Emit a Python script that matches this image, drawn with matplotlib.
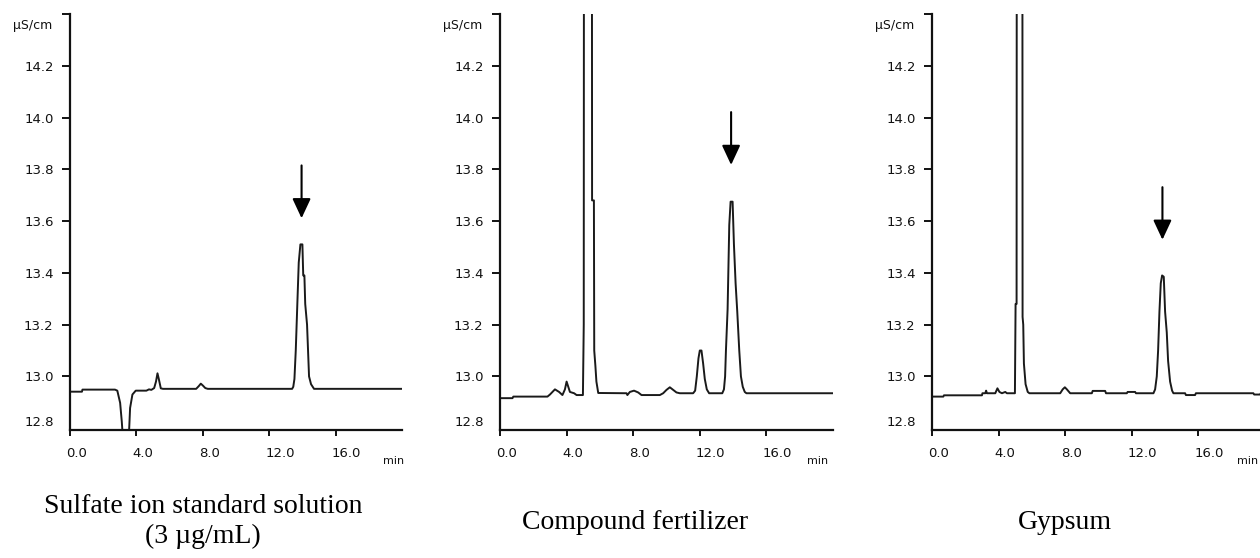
import matplotlib
matplotlib.use('Agg')
import matplotlib.pyplot as plt
from matplotlib.transforms import ScaledTranslation

# chromatogram traces: (time in min, conductivity in uS/cm)
standard_trace = [
    (0.0, 12.941), (0.72, 12.941), (0.75, 12.949), (2.71, 12.949), (2.85, 12.945),
    (3.02, 12.898), (3.12, 12.825), (3.21, 12.74), (3.35, 12.68), (3.5, 12.72),
    (3.56, 12.79), (3.62, 12.878), (3.76, 12.93), (3.96, 12.945), (4.6, 12.945),
    (4.76, 12.95), (4.9, 12.948), (5.07, 12.955), (5.18, 12.98), (5.27, 13.012),
    (5.35, 12.99), (5.47, 12.954), (5.6, 12.952), (7.6, 12.952), (7.75, 12.962),
    (7.88, 12.972), (8.0, 12.965), (8.15, 12.955), (8.3, 12.952), (13.38, 12.952),
    (13.45, 12.96), (13.52, 12.99), (13.6, 13.1), (13.7, 13.29), (13.78, 13.44),
    (13.88, 13.51), (14.0, 13.51), (14.05, 13.39), (14.12, 13.39), (14.17, 13.28),
    (14.28, 13.2), (14.4, 13.0), (14.52, 12.97), (14.7, 12.952), (20.0, 12.952),
]

fertilizer_trace = [
    (0.0, 12.916), (0.75, 12.916), (0.8, 12.922), (2.85, 12.922), (3.0, 12.93),
    (3.3, 12.95), (3.55, 12.94), (3.75, 12.928), (3.9, 12.95), (4.0, 12.98),
    (4.1, 12.96), (4.2, 12.94), (4.45, 12.935), (4.6, 12.928), (4.98, 12.928),
    (5.03, 13.2), (5.05, 16.0), (5.51, 16.0), (5.53, 13.68), (5.64, 13.68),
    (5.66, 13.1), (5.73, 13.04), (5.79, 12.98), (5.9, 12.936), (7.6, 12.935),
    (7.65, 12.928), (7.8, 12.94), (8.05, 12.945), (8.3, 12.938), (8.5, 12.928),
    (9.6, 12.928), (9.8, 12.935), (10.0, 12.948), (10.2, 12.958), (10.4, 12.948),
    (10.6, 12.938), (10.8, 12.935), (11.6, 12.935), (11.72, 12.945), (11.82, 13.0),
    (11.92, 13.07), (12.0, 13.1), (12.1, 13.1), (12.2, 13.05), (12.3, 12.99),
    (12.42, 12.95), (12.56, 12.935), (13.35, 12.935), (13.45, 12.95), (13.52, 13.0),
    (13.57, 13.1), (13.67, 13.26), (13.77, 13.585), (13.85, 13.675), (13.97, 13.675),
    (14.05, 13.51), (14.15, 13.36), (14.25, 13.25), (14.37, 13.1), (14.47, 13.0),
    (14.58, 12.96), (14.7, 12.94), (14.8, 12.935), (20.0, 12.935),
]

gypsum_trace = [
    (0.0, 12.922), (0.68, 12.922), (0.72, 12.927), (3.0, 12.927), (3.03, 12.935),
    (3.2, 12.935), (3.25, 12.945), (3.3, 12.935), (3.8, 12.935), (3.93, 12.954),
    (4.05, 12.94), (4.2, 12.935), (4.4, 12.94), (4.5, 12.935), (4.98, 12.935),
    (5.02, 13.28), (5.08, 13.28), (5.1, 16.0), (5.42, 16.0), (5.44, 13.23),
    (5.48, 13.2), (5.52, 13.05), (5.62, 12.97), (5.75, 12.94), (5.85, 12.935),
    (7.7, 12.935), (7.85, 12.95), (7.98, 12.958), (8.1, 12.95), (8.3, 12.935),
    (9.6, 12.935), (9.65, 12.944), (10.4, 12.944), (10.45, 12.935), (11.7, 12.935),
    (11.75, 12.94), (12.2, 12.94), (12.25, 12.935), (13.3, 12.935), (13.4, 12.95),
    (13.5, 13.0), (13.58, 13.1), (13.66, 13.25), (13.74, 13.36), (13.82, 13.39),
    (13.92, 13.385), (14.0, 13.25), (14.1, 13.17), (14.18, 13.06), (14.3, 12.98),
    (14.42, 12.945), (14.5, 12.935), (15.2, 12.935), (15.25, 12.928), (15.8, 12.928),
    (15.85, 12.935), (19.3, 12.935), (19.35, 12.93), (19.7, 12.93), (19.75, 12.935),
    (20.0, 12.935),
]

traces = [standard_trace, fertilizer_trace, gypsum_trace]

# arrow marking the sulfate peak: (time, top, tip)
arrows = [(13.95, 13.815, 13.611), (13.88, 14.021, 13.817), (13.84, 13.731, 13.528)]

captions = [["Sulfate ion standard solution", "(3 \u00b5g/mL)"],
            ["Compound fertilizer"],
            ["Gypsum"]]

x_ticks = [0, 4, 8, 12, 16]
x_labels = ['0.0', '4.0', '8.0', '12.0', '16.0']
y_ticks = [12.8, 13.0, 13.2, 13.4, 13.6, 13.8, 14.0, 14.2, 14.4]
y_labels = ['12.8', '13.0', '13.2', '13.4', '13.6', '13.8', '14.0', '14.2', '']

W, H = 1260, 558
fig = plt.figure(figsize=(W / 100, H / 100), dpi=100)

# axes placement in pixels (left, right), top 14, bottom 430
panel_px = [(70, 402), (500, 833), (932, 1265)]
min_offset = [-19, -26, -28]
caption_px = [(203, [513, 543]), (635, [529]), (1065, [529])]
ink = '#111111'

for i, (left, right) in enumerate(panel_px):
    ax = fig.add_axes([left / W, 1 - 430 / H, (right - left) / W, (430 - 14) / H])
    t = [p[0] for p in traces[i]]
    y = [p[1] for p in traces[i]]
    ax.plot(t, y, color='#1a1a1a', lw=1.4)
    ax.set_xlim(0, 20)
    ax.set_ylim(12.793, 14.40)

    for s in ['top', 'right']:
        ax.spines[s].set_visible(False)
    for s in ['left', 'bottom']:
        ax.spines[s].set_linewidth(1.6)
        ax.spines[s].set_color(ink)

    ax.set_xticks(x_ticks)
    ax.set_xticklabels(x_labels)
    ax.set_yticks(y_ticks)
    ax.set_yticklabels(y_labels)
    ax.tick_params(axis='y', length=5.8, width=1.4, pad=6, labelsize=9.5, colors=ink)
    ax.tick_params(axis='x', length=4.5, width=1.4, pad=7.5, labelsize=9.5, colors=ink)

    for lab in ax.get_xticklabels():
        lab.set_ha('left')
        lab.set_transform(lab.get_transform() + ScaledTranslation(-4 / 100, 0, fig.dpi_scale_trans))

    first = ax.yaxis.get_major_ticks()[0]
    first.tick1line.set_visible(False)
    first.label1.set_transform(first.label1.get_transform() + ScaledTranslation(0, 7 / 100, fig.dpi_scale_trans))

    ax.annotate('\u00b5S/cm', xy=(0, 1), xycoords='axes fraction', xytext=(-18, -12),
                textcoords='offset pixels', ha='right', va='center', fontsize=9, color=ink)
    ax.annotate('min', xy=(1, 0), xycoords='axes fraction', xytext=(min_offset[i], -31),
                textcoords='offset pixels', ha='left', va='center', fontsize=8, color=ink)

    at, atop, atip = arrows[i]
    ax.annotate('', xy=(at, atip), xytext=(at, atop),
                arrowprops=dict(arrowstyle='-|>,head_length=0.6,head_width=0.28',
                                mutation_scale=20, lw=1.5, color='black',
                                shrinkA=0, shrinkB=0))

    cx, baselines = caption_px[i]
    for line, yb in zip(captions[i], baselines):
        fig.text(cx / W, 1 - yb / H, line, ha='center', va='baseline',
                 fontsize=20, family='Liberation Serif', color='black')

fig.savefig('out.png', dpi=100)
